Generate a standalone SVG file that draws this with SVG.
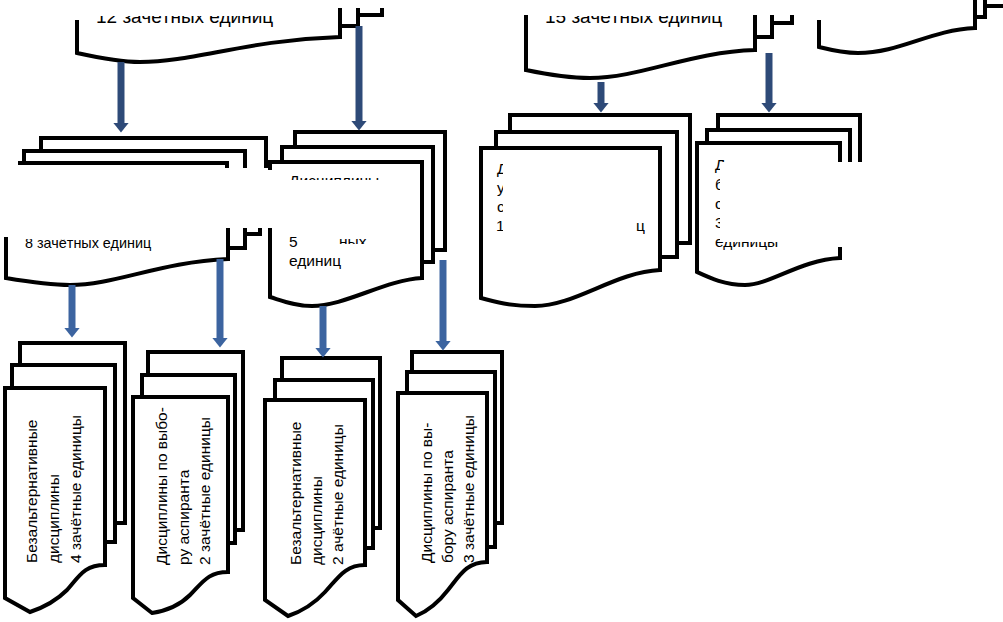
<svg xmlns="http://www.w3.org/2000/svg" width="1003" height="622" viewBox="0 0 1003 622">
<style>
.s{fill:none;stroke:#000;stroke-width:4}
.d{fill:#fff;stroke:#000;stroke-width:4}
.t{font-family:"Liberation Sans",Arial,sans-serif;font-size:15.5px;fill:#000}
.tt{font-family:"Liberation Sans",Arial,sans-serif;font-size:19px;fill:#000}
.tb{font-family:"Liberation Sans",Arial,sans-serif;font-size:14.4px;fill:#000}
.a1{stroke:#2E4A78;stroke-width:7;fill:none}
.a2{stroke:#3C64A0;stroke-width:7;fill:none}
</style>
<defs>
<marker id="h1" viewBox="0 0 10 16" refX="0.5" refY="8" markerWidth="10" markerHeight="16" orient="auto" markerUnits="userSpaceOnUse"><path d="M0,0L10,8L0,16Z" fill="#2E4A78"/></marker>
<marker id="h2" viewBox="0 0 10 16" refX="0.5" refY="8" markerWidth="10" markerHeight="16" orient="auto" markerUnits="userSpaceOnUse"><path d="M0,0L10,8L0,16Z" fill="#3C64A0"/></marker>
<clipPath id="cTop"><rect x="0" y="16" width="1003" height="20"/></clipPath>
<clipPath id="cB"><rect x="0" y="239" width="300" height="20"/></clipPath>
<clipPath id="cC1"><rect x="0" y="150" width="1003" height="30"/></clipPath>
<clipPath id="cC2"><rect x="0" y="230" width="1003" height="14"/></clipPath>
<clipPath id="cC"><path clip-rule="evenodd" d="M0,0H1003V622H0Z M0,170H273V228H0Z"/></clipPath>
<clipPath id="cD"><path clip-rule="evenodd" d="M0,0H1003V622H0Z M503,160H636V240H503Z"/></clipPath>
<clipPath id="cE"><path clip-rule="evenodd" d="M0,0H1003V622H0Z M720,162H1003V247H838V242H720Z"/></clipPath>
</defs>

<g id="node-A">
<path class="s" d="M77,20V53C100,58 120,62 140,62C195,62 245,40 340,37V8"/>
<path class="s" d="M340,26H358V8M358,15H382V8"/>
<text class="tt" x="96" y="23" clip-path="url(#cTop)">12 зачётных единиц</text>
</g>

<g id="node-F">
<path class="s" d="M526,15V70C550,75 570,78 590,78C640,78 690,52 755,50V15"/>
<path class="s" d="M755,37H772V15M772,23H792V15"/>
<text class="tt" x="545" y="23" clip-path="url(#cTop)">15 зачётных единиц</text>
</g>

<g id="node-G">
<path class="s" d="M819,20V47C835,51 845,53 858,53C900,53 930,30 975,28V0"/>
<path class="s" d="M975,17H985V0M985,6H1003"/>
</g>

<g id="node-B">
<path class="s" d="M41,151V138H266V168M24,163V151H245V168M18,163H227V168"/>
<path class="s" d="M6,237V278C30,282 50,285 70,285C115,285 160,262 228,259V228M228,248H245V228M245,234H260V228"/>
<text class="tb" x="25" y="248" clip-path="url(#cB)">8 зачётных единиц</text>
</g>

<g id="node-C">
<g clip-path="url(#cC)">
<path class="d" d="M295,132H445V250H295Z"/>
<path class="d" d="M282,147H433V262H282Z"/>
<path class="d" d="M270,162H422V278C385,280 345,306 312,306C295,306 283,301 270,297Z"/>
</g>
<text class="t" x="289" y="186" clip-path="url(#cC1)">Дисциплины</text>
<text class="t" x="289" y="247">5</text>
<text class="t" x="339" y="247" clip-path="url(#cC2)">ных</text>
<text class="t" x="289" y="266">единиц</text>
</g>

<g id="node-D" clip-path="url(#cD)">
<path class="d" d="M510,115H690V243H510Z"/>
<path class="d" d="M496,132H677V257H496Z"/>
<path class="d" d="M481,148H660V270C615,272 575,306 535,306C510,306 495,302 481,298Z"/>
<text class="t" x="497" y="174">Д</text>
<text class="t" x="497" y="193">у</text>
<text class="t" x="497" y="212">с</text>
<text class="t" x="496" y="231">1</text>
<text class="t" x="636" y="231">ц</text>
</g>

<g id="node-E" clip-path="url(#cE)">
<path class="d" d="M718,115H860V232H718Z"/>
<path class="d" d="M707,130H850V245H707Z"/>
<path class="d" d="M697,143H840V258C800,260 770,285 745,285C725,285 710,278 697,272Z"/>
<text class="t" x="715" y="170">Дисциплины</text>
<text class="t" x="715" y="190">б</text>
<text class="t" x="715" y="209">с</text>
<text class="t" x="715" y="228">3</text>
<text class="t" x="715" y="247">единицы</text>
</g>

<g id="node-H">
<path class="d" d="M20,343H125V523H20Z"/>
<path class="d" d="M12,365H115V542H12Z"/>
<path class="d" d="M5,388H105V565C85,565 80,575 67,590C55,602 42,608 30,612L5,598Z"/>
<text class="t" transform="translate(37,563) rotate(-90)">Безальтернативные</text>
<text class="t" transform="translate(59,563) rotate(-90)">дисциплины</text>
<text class="t" transform="translate(81,563) rotate(-90)">4 зачётные единицы</text>
</g>

<g id="node-H2">
<path class="d" d="M148,352H243V530H148Z"/>
<path class="d" d="M142,375H235V543H142Z"/>
<path class="d" d="M133,397H228V572C208,572 203,582 190,595C178,607 165,611 152,613L133,598Z"/>
<text class="t" transform="translate(167,565) rotate(-90)">Дисциплины по выбо-</text>
<text class="t" transform="translate(189,565) rotate(-90)">ру аспиранта</text>
<text class="t" transform="translate(210,565) rotate(-90)">2 зачётные единицы</text>
</g>

<g id="node-I">
<path class="d" d="M282,358H380V528H282Z"/>
<path class="d" d="M275,380H373V548H275Z"/>
<path class="d" d="M265,400H365V565C345,565 338,578 325,592C313,605 300,612 288,616L265,600Z"/>
<text class="t" transform="translate(301,565) rotate(-90)">Безальтернативные</text>
<text class="t" transform="translate(322,565) rotate(-90)">дисциплины</text>
<text class="t" transform="translate(343,565) rotate(-90)">2 ачётные единицы</text>
</g>

<g id="node-J">
<path class="d" d="M412,352H502V523H412Z"/>
<path class="d" d="M407,372H495V547H407Z"/>
<path class="d" d="M398,393H487V562C467,562 460,575 448,590C438,603 428,611 416,616L398,600Z"/>
<text class="t" transform="translate(432,563) rotate(-90)">Дисциплины по вы-</text>
<text class="t" transform="translate(453,563) rotate(-90)">бору аспиранта</text>
<text class="t" transform="translate(474,563) rotate(-90)">3 зачётные единицы</text>
</g>

<g id="connectors">
<line class="a1" x1="121" y1="62" x2="121" y2="123" marker-end="url(#h1)"/>
<line class="a1" x1="359" y1="26" x2="359" y2="121" marker-end="url(#h1)"/>
<line class="a1" x1="601" y1="82" x2="601" y2="103" marker-end="url(#h1)"/>
<line class="a1" x1="769" y1="53" x2="769" y2="103" marker-end="url(#h1)"/>
<line class="a2" x1="72" y1="285" x2="72" y2="328" marker-end="url(#h2)"/>
<line class="a2" x1="220" y1="259" x2="220" y2="338" marker-end="url(#h2)"/>
<line class="a2" x1="323" y1="306" x2="323" y2="348" marker-end="url(#h2)"/>
<line class="a2" x1="443" y1="260" x2="443" y2="341" marker-end="url(#h2)"/>
</g>
</svg>
